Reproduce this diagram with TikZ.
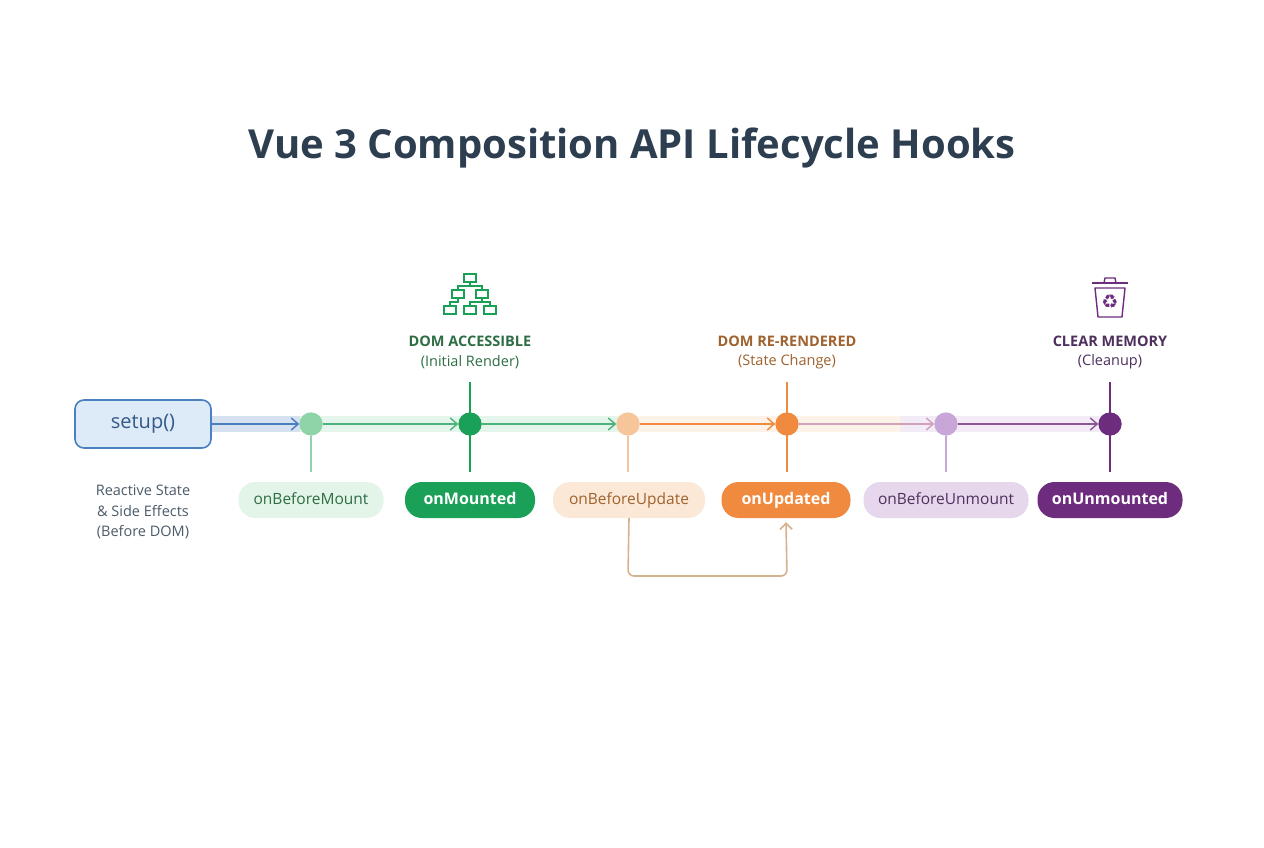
\documentclass[tikz,border=0pt]{standalone}
\usepackage{fontspec}
\setmainfont{Open Sans}
\usetikzlibrary{arrows.meta}
\definecolor{title}{HTML}{2D3E50}
\definecolor{bl}{HTML}{4A7FC0}\definecolor{blf}{HTML}{DDEAF8}
\definecolor{gl}{HTML}{8FD3A8}\definecolor{gd}{HTML}{1BA058}\definecolor{gt}{HTML}{2F6E45}
\definecolor{ol}{HTML}{F6C69A}\definecolor{od}{HTML}{F08A3E}\definecolor{ot}{HTML}{A0622E}
\definecolor{pl}{HTML}{C9A6D8}\definecolor{pd}{HTML}{6D2C7D}\definecolor{pt}{HTML}{4E2F5E}
\begin{document}
\begin{tikzpicture}[x=1pt,y=-1pt,
 pill/.style={rounded corners=17pt,minimum height=36pt,inner sep=0pt,text height=11pt,text depth=3pt,font=\fontsize{15.5}{18}\selectfont},
 dot/.style={circle,minimum size=23pt,inner sep=0pt},
 flow/.style={-{Straight Barb[length=7pt,width=12pt]},line width=1.4pt},
 band/.style={line width=16pt,opacity=0.22},
 tick/.style={line width=1.6pt},
 hdr/.style={font=\fontsize{14.5}{17}\selectfont\bfseries,align=center},
 sub/.style={font=\fontsize{14.5}{17}\selectfont,align=center}]
\useasboundingbox[fill=white] (0,0) rectangle (1264,848);
\node[font=\fontsize{40}{44}\selectfont\bfseries,text=title] (t) at (632,148) {Vue 3 Composition API Lifecycle Hooks};
% bands
\draw[band,bl] (211,424) -- (300,424);
\draw[band,gl] (300,424) -- (620,424);
\draw[band,ol] (620,424) -- (900,424);
\draw[band,pl] (900,424) -- (1110,424);
% setup
\node[draw=bl,line width=1.6pt,fill=blf,rounded corners=9pt,minimum width=136pt,minimum height=48pt,text=bl!70!black,font=\fontsize{20}{24}\selectfont] (s) at (143,424) {setup()};
\node[sub,font=\fontsize{14.5}{20.5}\selectfont,text=title!85] (sd) at (143,512) {Reactive State\\\& Side Effects\\(Before DOM)};
% dots
\node[dot,fill=gl] (d1) at (311,424) {};
\node[dot,fill=gd] (d2) at (470,424) {};
\node[dot,fill=ol] (d3) at (628,424) {};
\node[dot,fill=od] (d4) at (787,424) {};
\node[dot,fill=pl] (d5) at (946,424) {};
\node[dot,fill=pd] (d6) at (1110,424) {};
% pills
\node[pill,fill=gl!25,text=gt,minimum width=145pt] (p1) at (311,500) {onBeforeMount};
\node[pill,fill=gd,text=white,minimum width=130pt,font=\fontsize{16}{18}\selectfont\bfseries] (p2) at (470,500) {onMounted};
\node[pill,fill=ol!40,text=ot,minimum width=152pt] (p3) at (629,500) {onBeforeUpdate};
\node[pill,fill=od,text=white,minimum width=129pt,font=\fontsize{16}{18}\selectfont\bfseries] (p4) at (786,500) {onUpdated};
\node[pill,fill=pl!45,text=pt,minimum width=165pt] (p5) at (946,500) {onBeforeUnmount};
\node[pill,fill=pd,text=white,minimum width=145pt,font=\fontsize{16}{18}\selectfont\bfseries] (p6) at (1110,500) {onUnmounted};
% ticks
\coordinate (b1) at (311,472);\coordinate (b2) at (470,472);\coordinate (b3) at (628,472);
\coordinate (b4) at (787,472);\coordinate (b5) at (946,472);\coordinate (b6) at (1110,472);
\coordinate (a2) at (470,382);\coordinate (a4) at (787,382);\coordinate (a6) at (1110,382);
\draw[tick,gl] (d1) -- (b1);
\draw[tick,gd] (a2) -- (b2);
\draw[tick,ol] (d3) -- (b3);
\draw[tick,od] (a4) -- (b4);
\draw[tick,pl] (d5) -- (b5);
\draw[tick,pd] (a6) -- (b6);
\node[dot,fill=gl] at (d1) {};\node[dot,fill=gd] at (d2) {};\node[dot,fill=ol] at (d3) {};
\node[dot,fill=od] at (d4) {};\node[dot,fill=pl] at (d5) {};\node[dot,fill=pd] at (d6) {};
% flow arrows
\draw[flow,bl] (s.east) -- (d1.west);
\draw[flow,gd!80] (d1.east) -- (d2.west);
\draw[flow,gd!80] (d2.east) -- (d3.west);
\draw[flow,od] (d3.east) -- (d4.west);
\draw[flow,pl!80!od] (d4.east) -- (d5.west);
\draw[flow,pd!80] (d5.east) -- (d6.west);
% headers
\node[hdr,text=gt] (h1) at (470,341) {DOM ACCESSIBLE};
\node[sub,text=gt] (s1) at (470,362) {(Initial Render)};
\node[hdr,text=ot] (h2) at (787,341) {DOM RE-RENDERED};
\node[sub,text=ot] (s2) at (787,362) {(State Change)};
\node[hdr,text=pt] (h3) at (1110,341) {CLEAR MEMORY};
\node[sub,text=pt] (s3) at (1110,362) {(Cleanup)};
% loop
\coordinate (l1) at (628,576);\coordinate (l2) at (787,576);
\draw[ol!85!black!90,line width=1.6pt,rounded corners=6pt,-{Straight Barb[length=6pt,width=12pt]}] (p3.south) -- (l1) -- (l2) -- ([yshift=-4pt]p4.south);
% tree icon
\begin{scope}[gd,line width=1.3pt]
\draw (464,274) rectangle (476,282);
\draw (452,290) rectangle (464,298);\draw (476,290) rectangle (488,298);
\draw (444,306) rectangle (456,314);\draw (464,306) rectangle (476,314);\draw (484,306) rectangle (496,314);
\draw (470,282) -- (470,286) -- (458,286) -- (458,290);
\draw (470,286) -- (482,286) -- (482,290);
\draw (458,298) -- (458,302) -- (450,302) -- (450,306);
\draw (482,298) -- (482,302) -- (470,302) -- (470,306);
\draw (482,302) -- (490,302) -- (490,306);
\end{scope}
% trash icon
\begin{scope}[pd,line width=1.4pt,line join=round]
\draw (1092,283) -- (1128,283);
\draw (1104,283) -- (1105,278) -- (1115,278) -- (1116,283);
\draw (1095,288) -- (1098,317) -- (1122,317) -- (1125,288) -- cycle;
\node[font=\fontsize{19}{19}\selectfont,text=pd,inner sep=0] (rc) at (1110,302) {\fontspec{DejaVu Sans}♻};
\end{scope}
\end{tikzpicture}
\end{document}
